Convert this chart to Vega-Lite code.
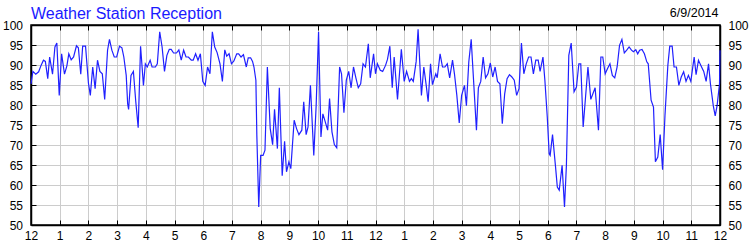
{
  "$schema": "https://vega.github.io/schema/vega-lite/v6.json",
  "width": 689,
  "height": 200,
  "autosize": {"type": "none"},
  "padding": {"left": 31, "top": 25, "right": 30, "bottom": 25},
  "background": "white",
  "title": {"text": "Weather Station Reception", "anchor": "start", "frame": "group", "font": "Liberation Sans", "fontSize": 16, "fontWeight": "normal", "color": "#1a1aff", "offset": -15},
  "config": {
    "view": {"stroke": "black", "strokeWidth": 1.5},
    "axis": {"domainColor": "black", "domainWidth": 1.5, "tickColor": "black", "tickWidth": 1, "tickSize": -5, "labelFont": "Liberation Sans", "labelFontSize": 12, "labelColor": "black", "gridColor": "#cccccc", "gridWidth": 1, "titleFont": "Liberation Sans"}
  },
  "data": {"values": [
{"t":0,"v":85.3},{"t":4,"v":88.4},{"t":10,"v":87.7},{"t":16,"v":88.3},{"t":21,"v":89.9},{"t":26,"v":91.2},{"t":30,"v":90.9},{"t":35,"v":86.6},{"t":39,"v":92},{"t":45,"v":87.7},{"t":50,"v":94.5},{"t":54,"v":95.5},{"t":59,"v":82.4},{"t":64,"v":92.8},{"t":70,"v":87.7},{"t":75,"v":89.8},{"t":79,"v":92.8},{"t":84,"v":91.3},{"t":89,"v":92},{"t":95,"v":94.8},{"t":99,"v":94.3},{"t":104,"v":87.7},{"t":108,"v":94.7},{"t":114,"v":94.7},{"t":120,"v":85.5},{"t":124,"v":82.4},{"t":129,"v":89.5},{"t":134,"v":84.1},{"t":139,"v":91.2},{"t":144,"v":88.4},{"t":149,"v":87.8},{"t":154,"v":81.4},{"t":160,"v":93.7},{"t":164,"v":96.4},{"t":169,"v":93.7},{"t":174,"v":92},{"t":179,"v":92},{"t":185,"v":94.7},{"t":190,"v":94.3},{"t":194,"v":92},{"t":199,"v":87.4},{"t":202,"v":80.3},{"t":204,"v":78.9},{"t":209,"v":87.4},{"t":214,"v":88.4},{"t":219,"v":80.8},{"t":224,"v":74.3},{"t":229,"v":94.7},{"t":235,"v":84.9},{"t":239,"v":90.3},{"t":243,"v":89.5},{"t":249,"v":91.2},{"t":253,"v":89.5},{"t":260,"v":89.5},{"t":264,"v":90.3},{"t":269,"v":98.3},{"t":274,"v":94.5},{"t":279,"v":88.4},{"t":284,"v":92.4},{"t":289,"v":93.9},{"t":293,"v":93.9},{"t":298,"v":93},{"t":304,"v":93},{"t":309,"v":93.8},{"t":314,"v":91.2},{"t":319,"v":93.7},{"t":324,"v":92},{"t":329,"v":92},{"t":335,"v":91.2},{"t":339,"v":91.2},{"t":344,"v":92.8},{"t":349,"v":91.2},{"t":354,"v":92.8},{"t":359,"v":85.9},{"t":364,"v":84.9},{"t":369,"v":89.5},{"t":374,"v":87.8},{"t":379,"v":98.3},{"t":384,"v":94.5},{"t":389,"v":93.1},{"t":395,"v":90.3},{"t":400,"v":85.9},{"t":405,"v":93.8},{"t":409,"v":92.2},{"t":414,"v":92.8},{"t":419,"v":90.3},{"t":424,"v":91},{"t":430,"v":92.8},{"t":434,"v":92.8},{"t":439,"v":92},{"t":444,"v":92.6},{"t":450,"v":89.5},{"t":454,"v":91.8},{"t":459,"v":91.8},{"t":463,"v":90.9},{"t":466,"v":89.5},{"t":470,"v":86.2},{"t":472,"v":72.4},{"t":476,"v":54.5},{"t":480,"v":67.4},{"t":485,"v":67.4},{"t":489,"v":68.7},{"t":494,"v":89.5},{"t":500,"v":74.1},{"t":505,"v":70.1},{"t":509,"v":78.9},{"t":515,"v":69.1},{"t":519,"v":84.3},{"t":525,"v":62.3},{"t":530,"v":70.9},{"t":534,"v":63.3},{"t":539,"v":65.8},{"t":543,"v":64.1},{"t":550,"v":76.2},{"t":555,"v":74.1},{"t":560,"v":72.6},{"t":566,"v":73.7},{"t":570,"v":80.8},{"t":575,"v":72.6},{"t":579,"v":74.5},{"t":584,"v":84.9},{"t":591,"v":67.4},{"t":596,"v":79.9},{"t":601,"v":98.3},{"t":606,"v":72},{"t":610,"v":77.8},{"t":615,"v":75.8},{"t":620,"v":73.7},{"t":624,"v":81.6},{"t":629,"v":73.3},{"t":634,"v":70.1},{"t":639,"v":69.3},{"t":645,"v":89.5},{"t":649,"v":87.8},{"t":654,"v":78.1},{"t":659,"v":86.2},{"t":664,"v":88.4},{"t":669,"v":84.3},{"t":674,"v":89.5},{"t":679,"v":86.8},{"t":684,"v":84.3},{"t":689,"v":85.3},{"t":694,"v":90.3},{"t":699,"v":89.5},{"t":705,"v":95.3},{"t":709,"v":86.8},{"t":716,"v":92.8},
{"t":720,"v":87.8},{"t":724,"v":90.3},{"t":730,"v":88.7},{"t":735,"v":88.4},{"t":741,"v":89.9},{"t":745,"v":91.4},{"t":750,"v":94.7},{"t":755,"v":84.3},{"t":759,"v":92},{"t":766,"v":81.4},{"t":774,"v":93.9},{"t":780,"v":85.9},{"t":785,"v":88.4},{"t":791,"v":85.9},{"t":795,"v":86.6},{"t":799,"v":85.9},{"t":805,"v":90.9},{"t":809,"v":98.9},{"t":816,"v":82.4},{"t":821,"v":89.5},{"t":826,"v":84.9},{"t":830,"v":80.8},{"t":835,"v":90.3},{"t":839,"v":85.1},{"t":846,"v":87.8},{"t":849,"v":86.8},{"t":855,"v":92.8},{"t":860,"v":89.5},{"t":865,"v":89.5},{"t":870,"v":90.3},{"t":875,"v":86.8},{"t":881,"v":91.2},{"t":885,"v":87.8},{"t":890,"v":82.4},{"t":895,"v":75.5},{"t":900,"v":82.4},{"t":906,"v":84.9},{"t":910,"v":79.8},{"t":915,"v":90.8},{"t":920,"v":96.4},{"t":931,"v":73.7},{"t":935,"v":84.3},{"t":940,"v":85.9},{"t":945,"v":92},{"t":950,"v":86.8},{"t":955,"v":87.8},{"t":960,"v":90.5},{"t":965,"v":87},{"t":970,"v":89.5},{"t":975,"v":85.9},{"t":980,"v":85.3},{"t":985,"v":75.3},{"t":990,"v":82.8},{"t":995,"v":86.6},{"t":1000,"v":87.6},{"t":1005,"v":87},{"t":1010,"v":86.2},{"t":1015,"v":82.4},{"t":1020,"v":84.1},{"t":1025,"v":95.5},{"t":1030,"v":87.8},{"t":1035,"v":90.3},{"t":1040,"v":92},{"t":1045,"v":92},{"t":1050,"v":87.8},{"t":1055,"v":91.2},{"t":1060,"v":91.2},{"t":1064,"v":88.4},{"t":1070,"v":92},{"t":1074,"v":86.2},{"t":1079,"v":77},{"t":1083,"v":67.8},{"t":1085,"v":67.4},{"t":1090,"v":72.6},{"t":1096,"v":64.9},{"t":1100,"v":59.5},{"t":1104,"v":58.7},{"t":1110,"v":64.9},{"t":1115,"v":54.5},{"t":1119,"v":64.9},{"t":1124,"v":92.4},{"t":1129,"v":95.5},{"t":1135,"v":83.3},{"t":1140,"v":84.5},{"t":1145,"v":90.3},{"t":1149,"v":90.3},{"t":1154,"v":74.5},{"t":1159,"v":82},{"t":1164,"v":89.5},{"t":1170,"v":81.4},{"t":1179,"v":84.3},{"t":1186,"v":73.7},{"t":1191,"v":92},{"t":1195,"v":92},{"t":1200,"v":87.8},{"t":1205,"v":89.1},{"t":1210,"v":90.3},{"t":1215,"v":87.4},{"t":1220,"v":86.8},{"t":1225,"v":89.5},{"t":1230,"v":94.9},{"t":1235,"v":96.4},{"t":1240,"v":93},{"t":1245,"v":93.7},{"t":1250,"v":94.5},{"t":1255,"v":93.7},{"t":1259,"v":93.3},{"t":1264,"v":93.8},{"t":1268,"v":92.8},{"t":1272,"v":93.7},{"t":1277,"v":93.9},{"t":1282,"v":92.8},{"t":1287,"v":90.8},{"t":1290,"v":90.3},{"t":1296,"v":81.2},{"t":1301,"v":79.5},{"t":1305,"v":65.8},{"t":1310,"v":67},{"t":1315,"v":72.6},{"t":1320,"v":63.8},{"t":1325,"v":77.4},{"t":1331,"v":89.9},{"t":1335,"v":94.7},{"t":1340,"v":94.7},{"t":1344,"v":89.5},{"t":1349,"v":89.5},{"t":1354,"v":84.9},{"t":1359,"v":87},{"t":1364,"v":88.3},{"t":1369,"v":85.9},{"t":1374,"v":87.4},{"t":1379,"v":85.9},{"t":1386,"v":92},{"t":1390,"v":87.6},{"t":1395,"v":91.2},{"t":1400,"v":89.9},{"t":1406,"v":88.4},{"t":1411,"v":85.9},{"t":1416,"v":90.3},{"t":1420,"v":85.3},{"t":1426,"v":79.8},{"t":1430,"v":77.3},{"t":1434,"v":79.9},{"t":1439,"v":85.3},{"t":1440,"v":93.7}
  ]},
  "resolve": {"axis": {"x": "independent", "y": "independent"}},
  "layer": [
    {
      "mark": {"type": "line", "stroke": "#2020ff", "strokeWidth": 1.2},
      "encoding": {
        "x": {"field": "t", "type": "quantitative", "scale": {"domain": [0, 1440], "nice": false, "zero": false},
          "axis": {"orient": "bottom", "title": null, "grid": true, "values": [0,60,120,180,240,300,360,420,480,540,600,660,720,780,840,900,960,1020,1080,1140,1200,1260,1320,1380,1440], "labelExpr": "(datum.value/60) % 12 == 0 ? '12' : '' + ((datum.value/60) % 12)", "labelFlush": false, "labelOverlap": false, "labelPadding": 10}},
        "y": {"field": "v", "type": "quantitative", "scale": {"domain": [50, 100], "nice": false, "zero": false},
          "axis": {"orient": "left", "title": null, "grid": true, "values": [50,55,60,65,70,75,80,85,90,95,100], "labelOverlap": false, "labelPadding": 13.5}}
      }
    },
    {
      "mark": {"type": "line", "strokeOpacity": 0},
      "encoding": {
        "x": {"field": "t", "type": "quantitative", "scale": {"domain": [0, 1440], "nice": false, "zero": false},
          "axis": {"orient": "top", "title": "6/9/2014", "titleAnchor": "end", "titleAlign": "right", "titleX": 687, "titleFontSize": 12.5, "titleFontWeight": "normal", "titleColor": "black", "titlePadding": 5, "grid": false, "labels": false, "values": [0,60,120,180,240,300,360,420,480,540,600,660,720,780,840,900,960,1020,1080,1140,1200,1260,1320,1380,1440]}},
        "y": {"field": "v", "type": "quantitative", "scale": {"domain": [50, 100], "nice": false, "zero": false},
          "axis": {"orient": "right", "title": null, "grid": false, "values": [50,55,60,65,70,75,80,85,90,95,100], "labelOverlap": false, "labelPadding": 13}}
      }
    }
  ]
}
